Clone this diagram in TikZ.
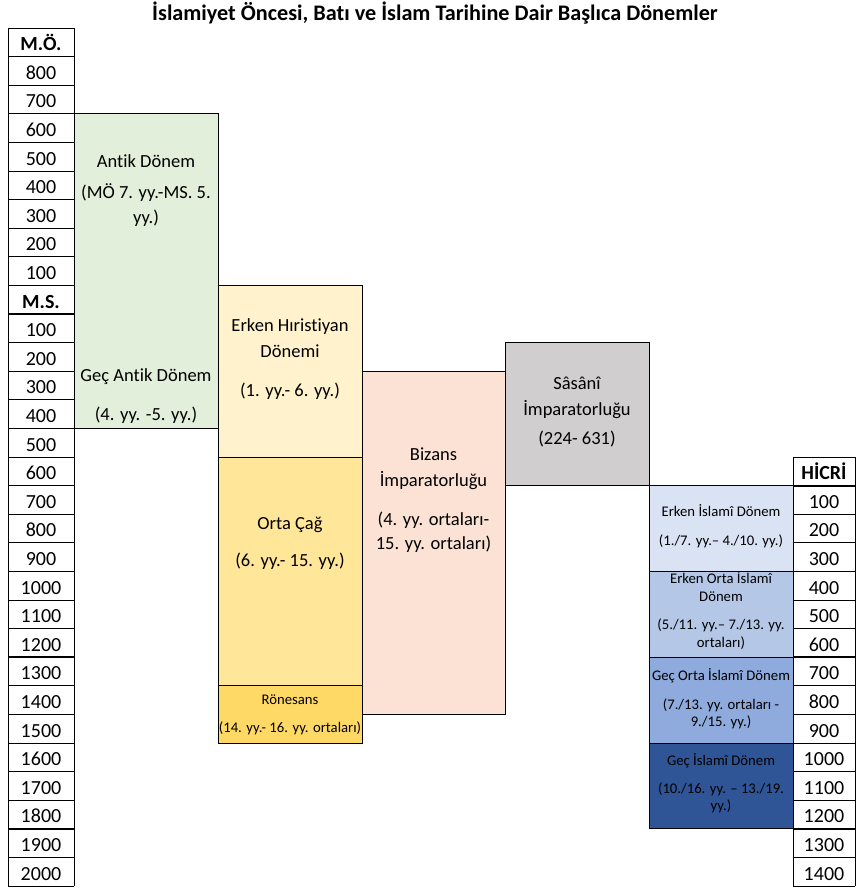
\documentclass[tikz,border=0pt]{standalone}
\usepackage{fontspec}
\setmainfont{Carlito}[Ligatures={NoCommon}]
\definecolor{cAntik}{HTML}{E2EFDA}
\definecolor{cErkHir}{HTML}{FFF2CC}
\definecolor{cOrta}{HTML}{FFE699}
\definecolor{cRon}{HTML}{FFD966}
\definecolor{cBiz}{HTML}{FBE2D5}
\definecolor{cSas}{HTML}{D0CECE}
\definecolor{cIsl1}{HTML}{DAE3F3}
\definecolor{cIsl2}{HTML}{B4C7E7}
\definecolor{cIsl3}{HTML}{8FAADC}
\definecolor{cIsl4}{HTML}{2F5597}
\begin{document}
\begin{tikzpicture}[x=1pt,y=-1pt,
  yearlbl/.style={font=\fontsize{20}{24}\selectfont, anchor=base, inner sep=0pt},
  boxtxt/.style={font=\fontsize{18.5}{22}\selectfont, anchor=base, inner sep=0pt},
  smalltxt/.style={font=\fontsize{14.7}{17}\selectfont, anchor=base, inner sep=0pt},
  titletxt/.style={font=\fontsize{22.2}{26}\selectfont\bfseries, anchor=base, inner sep=0pt},
  period/.style={draw=black, line width=0.9pt},
  gridline/.style={draw=black, line width=0.9pt},
  heavyline/.style={draw=black, line width=2.2pt}]
\useasboundingbox (0,0) rectangle (856,888);
\def\Y#1{28+28.6*#1}
% ---- period boxes ----
\path[period, fill=cAntik] (74,{\Y{3}}) rectangle (218,{\Y{14}});
\path[period, fill=cErkHir] (218,{\Y{9}}) rectangle (362,{\Y{15}});
\path[period, fill=cOrta] (218,{\Y{15}}) rectangle (362,{\Y{23}});
\path[period, fill=cRon] (218,{\Y{23}}) rectangle (362,{\Y{25}});
\path[period, fill=cBiz] (362,{\Y{12}}) rectangle (505,{\Y{24}});
\path[period, fill=cSas] (505,{\Y{11}}) rectangle (649,{\Y{16}});
\path[period, fill=cIsl1] (649,{\Y{16}}) rectangle (793,{\Y{19}});
\path[period, fill=cIsl2] (649,{\Y{19}}) rectangle (793,{\Y{22}});
\path[period, fill=cIsl3] (649,{\Y{22}}) rectangle (793,{\Y{25}});
\path[period, fill=cIsl4] (649,{\Y{25}}) rectangle (793,{\Y{28}});
% ---- left year column ----
\foreach \i in {0,...,30} \draw[gridline] (8,{\Y{\i}}) -- (74,{\Y{\i}});
\draw[gridline] (8,{\Y{0}}) -- (8,{\Y{30}});
\draw[gridline] (74,{\Y{0}}) -- (74,{\Y{30}});
\foreach \i in {10,22,28} \draw[heavyline] (8,{\Y{\i}}) -- (74,{\Y{\i}});
\foreach \lab [count=\i from 0] in {{\textbf{M.Ö.}},800,700,600,500,400,300,200,100,{\textbf{M.S.}},100,200,300,400,500,600,700,800,900,1000,1100,1200,1300,1400,1500,1600,1700,1800,1900,2000}
  \node[yearlbl] (L\i) at (41,{\Y{\i}+22.6}) {\lab};
% ---- right hicri column ----
\foreach \i in {15,...,30} \draw[gridline] (793,{\Y{\i}}) -- (855,{\Y{\i}});
\draw[gridline] (793,{\Y{15}}) -- (793,{\Y{30}});
\draw[gridline] (855,{\Y{15}}) -- (855,{\Y{30}});
\foreach \i in {16,22,28} \draw[heavyline] (793,{\Y{\i}}) -- (855,{\Y{\i}});
\foreach \lab [count=\i from 15] in {{\textbf{HİCRİ}},100,200,300,400,500,600,700,800,900,1000,1100,1200,1300,1400}
  \node[yearlbl] (H\i) at (824,{\Y{\i}+22.6}) {\lab};
% ---- title ----
\node[titletxt] (title) at (435,21) {İslamiyet Öncesi, Batı ve İslam Tarihine Dair Başlıca Dönemler};
% ---- period texts ----
\node[boxtxt] (antA) at (146,167.3) {Antik Dönem};
\node[boxtxt] (antB) at (146,198.7) {(MÖ 7. yy.-MS. 5.};
\node[boxtxt] (antC) at (146,223) {yy.)};
\node[boxtxt] (gecA) at (146,381.7) {Geç Antik Dönem};
\node[boxtxt] (gecB) at (146,420) {(4. yy. -5. yy.)};
\node[boxtxt] (ehA) at (290,331.7) {Erken Hıristiyan};
\node[boxtxt] (ehB) at (290,357.3) {Dönemi};
\node[boxtxt] (ehC) at (290,396) {(1. yy.- 6. yy.)};
\node[boxtxt] (ocA) at (290,529.3) {Orta Çağ};
\node[boxtxt] (ocB) at (290,566) {(6. yy.- 15. yy.)};
\node[smalltxt] (ronA) at (290,704) {Rönesans};
\node[smalltxt] (ronB) at (290,732.7) {(14. yy.- 16. yy. ortaları)};
\node[boxtxt] (bizA) at (433.5,460.5) {Bizans};
\node[boxtxt] (bizB) at (433.5,486) {İmparatorluğu};
\node[boxtxt] (bizC) at (433.5,525) {(4. yy. ortaları-};
\node[boxtxt] (bizD) at (433.5,549) {15. yy. ortaları)};
\node[boxtxt] (sasA) at (577,389) {Sâsânî};
\node[boxtxt] (sasB) at (577,415) {İmparatorluğu};
\node[boxtxt] (sasC) at (577,444) {(224- 631)};
\node[smalltxt] (i1A) at (721,516.7) {Erken İslamî Dönem};
\node[smalltxt] (i1B) at (721,545) {(1./7. yy.– 4./10. yy.)};
\node[smalltxt] (i2A) at (721,583.3) {Erken Orta İslamî};
\node[smalltxt] (i2B) at (721,601.7) {Dönem};
\node[smalltxt] (i2C) at (721,629.3) {(5./11. yy.– 7./13. yy.};
\node[smalltxt] (i2D) at (721,647.3) {ortaları)};
\node[smalltxt] (i3A) at (721,680.7) {Geç Orta İslamî Dönem};
\node[smalltxt] (i3B) at (721,709) {(7./13. yy. ortaları -};
\node[smalltxt] (i3C) at (721,726) {9./15. yy.)};
\node[smalltxt] (i4A) at (721,765) {Geç İslamî Dönem};
\node[smalltxt] (i4B) at (721,793.3) {(10./16. yy. – 13./19.};
\node[smalltxt] (i4C) at (721,810) {yy.)};
\end{tikzpicture}
\end{document}
